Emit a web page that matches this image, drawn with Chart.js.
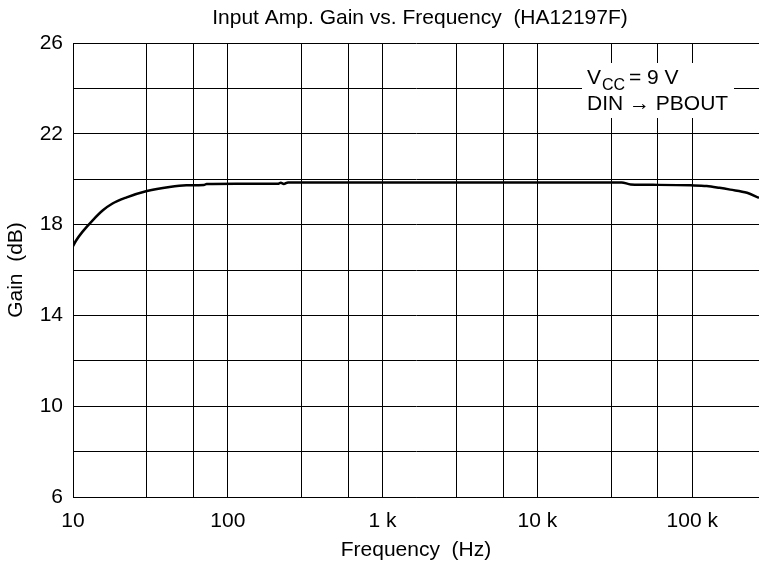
<!DOCTYPE html>
<html><head><meta charset="utf-8">
<script src="https://cdn.jsdelivr.net/npm/chart.js@4/dist/chart.umd.min.js"></script>
<style>html,body{margin:0;padding:0;background:#fff}#wrap{width:759px;height:568px;position:relative}</style>
</head><body><div id="wrap"><canvas id="c" width="759" height="568"></canvas></div>
<script>
const chartTitle = 'Input Amp. Gain vs. Frequency  (HA12197F)';
const xAxisTitle = 'Frequency  (Hz)';
const yAxisTitle = 'Gain  (dB)';

const frequencies = [10, 10.5, 11.5, 13.4, 15.6, 18, 22, 30, 42, 54, 70, 73, 113, 210, 220, 230, 245, 1000, 10000, 35000, 40000, 60000, 98000, 124000, 150000, 176000, 226000, 270000];
const gains       = [17.05, 17.31, 17.68, 18.19, 18.63, 18.93, 19.19, 19.48, 19.66, 19.73, 19.74, 19.79, 19.8, 19.8, 19.84, 19.79, 19.86, 19.86, 19.86, 19.86, 19.77, 19.75, 19.73, 19.70, 19.62, 19.54, 19.40, 19.18];

const xGridValues = [10, 30, 60, 100, 300, 600, 1000, 3000, 6000, 10000, 30000, 60000, 100000];
const xTickValues = [10, 100, 1000, 10000, 100000];
const xTickLabels = ['10', '100', '1 k', '10 k', '100 k'];
const yGridValues = [6, 8, 10, 12, 14, 16, 18, 20, 22, 24, 26];
const yTickValues = [6, 10, 14, 18, 22, 26];
const yTickLabels = ['6', '10', '14', '18', '22', '26'];

const noteVar = 'V';
const noteSub = 'CC';
const noteRest = '= 9 V';
const noteLine2 = 'DIN \u2192 PBOUT';

const FONT = "'Liberation Sans', Arial, Helvetica, sans-serif";
Chart.defaults.font.family = FONT;
Chart.defaults.color = '#000';

const overlay = {
  id: 'overlay',
  afterDraw(chart) {
    const ctx = chart.ctx;
    ctx.save();
    ctx.fillStyle = '#000';
    ctx.font = '21px ' + FONT;
    ctx.textAlign = 'center';
    ctx.textBaseline = 'middle';
    ctx.fillText(chartTitle, 420, 18);
    // note box
    ctx.fillStyle = '#fff';
    ctx.fillRect(582, 63, 152, 55);
    ctx.fillStyle = '#000';
    ctx.textAlign = 'left';
    ctx.textBaseline = 'alphabetic';
    ctx.font = '21px ' + FONT;
    ctx.fillText(noteVar, 587, 84);
    ctx.font = '16px ' + FONT;
    ctx.fillText(noteSub, 602, 90);
    ctx.font = '21px ' + FONT;
    ctx.fillText(noteRest, 629, 84);
    ctx.fillText(noteLine2, 587, 110);
    ctx.restore();
  }
};

new Chart(document.getElementById('c'), {
  type: 'line',
  data: {
    datasets: [{
      data: frequencies.map((f, i) => ({x: f, y: gains[i]})),
      borderColor: '#000',
      borderWidth: 2.5,
      pointRadius: 0,
      cubicInterpolationMode: 'monotone',
      fill: false
    }]
  },
  options: {
    responsive: false,
    animation: false,
    devicePixelRatio: 1,
    layout: {padding: {top: 43, left: 0, right: 0, bottom: 0}},
    plugins: {legend: {display: false}, title: {display: false}, tooltip: {enabled: false}},
    scales: {
      x: {
        type: 'logarithmic',
        min: 10,
        max: 270000,
        afterFit(s) { s.height = 71; },
        afterBuildTicks(s) { s.ticks = xGridValues.map(v => ({value: v})); },
        ticks: {
          autoSkip: false,
          maxRotation: 0,
          padding: 12,
          font: {size: 21},
          color: '#000',
          callback(v) { const i = xTickValues.indexOf(v); return i >= 0 ? xTickLabels[i] : ''; }
        },
        grid: {color: '#000', lineWidth: 1, drawTicks: false},
        border: {display: true, color: '#000', width: 1},
        title: {display: true, text: xAxisTitle, font: {size: 21}, color: '#000', padding: {top: 0, bottom: 5}}
      },
      y: {
        type: 'linear',
        min: 6,
        max: 26,
        afterFit(s) { s.width = 73; },
        afterBuildTicks(s) { s.ticks = yGridValues.map(v => ({value: v})); },
        ticks: {
          autoSkip: false,
          padding: 10,
          font: {size: 21},
          color: '#000',
          callback(v) { const i = yTickValues.indexOf(v); return i >= 0 ? yTickLabels[i] : ''; }
        },
        grid: {color: '#000', lineWidth: 1, drawTicks: false},
        border: {display: true, color: '#000', width: 1},
        title: {display: true, text: yAxisTitle, font: {size: 21}, color: '#000', padding: {top: 4, bottom: 0}}
      }
    }
  },
  plugins: [overlay]
});
</script>
</body></html>
